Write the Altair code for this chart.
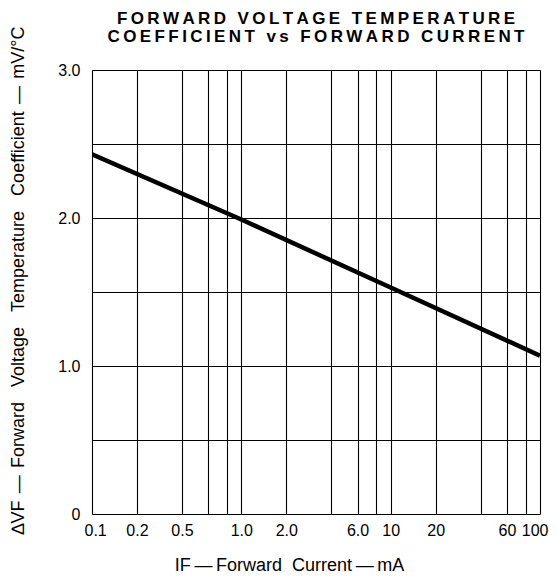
import altair as alt
import pandas as pd

# ---- data ----
current_mA = [0.1, 1.0, 10.0, 100.0]
coeff_mV_per_C = [2.43, 1.99, 1.53, 1.07]

x_grid_values = [0.1, 0.2, 0.4, 0.6, 0.8, 1, 2, 4, 6, 8, 10, 20, 40, 60, 80, 100]
x_label_values = [0.1, 0.2, 0.4, 1, 2, 6, 10, 20, 60, 100]
x_label_texts = ["0.1", "0.2", "0.5", "1.0", "2.0", "6.0", "10", "20", "60", "100"]
y_grid_values = [0, 0.5, 1.0, 1.5, 2.0, 2.5, 3.0]
y_label_values = [0, 1, 2, 3]
y_label_texts = ["0", "1.0", "2.0", "3.0"]

title_lines = ["FORWARD VOLTAGE TEMPERATURE", "COEFFICIENT vs FORWARD CURRENT"]
x_title = "IF\u2009—\u2009Forward\u00a0\u00a0Current\u2009—\u2009mA"
y_title = ("\u2206VF\u2009\u2009—\u2009\u2009Forward\u00a0\u00a0\u00a0Voltage\u00a0\u00a0\u00a0"
           "Temperature\u00a0\u00a0\u00a0Coefficient\u2009\u2009—\u2009\u2009mV/°C")

df = pd.DataFrame({"current": current_mA, "coeff": coeff_mV_per_C})


def spaced(s):
    out = []
    for w in s.split(" "):
        out.append("\u2009".join(list(w)))
    return "\u2009\u00a0\u2009".join(out)


def label_expr(values, texts):
    expr = "''"
    for v, t in reversed(list(zip(values, texts))):
        expr = f"abs(datum.value - {v}) < 1e-9 ? '{t}' : ({expr})"
    return expr


FONT = "Liberation Sans"

chart = (
    alt.Chart(df)
    .mark_line(color="black", strokeWidth=4.5, clip=True)
    .encode(
        x=alt.X(
            "current:Q",
            scale=alt.Scale(type="log", domain=[0.1, 100], nice=False),
            axis=alt.Axis(
                values=x_grid_values,
                labelExpr=label_expr(x_label_values, x_label_texts),
                ticks=False,
                domain=False,
                grid=True,
                gridColor="black",
                gridWidth=1.1,
                gridOpacity=1,
                labelFont=FONT,
                labelFontSize=16,
                labelColor="black",
                labelPadding=8,
                labelFlush=True,
                labelFlushOffset=8,
                labelOverlap=False,
                title=x_title,
                titleFont=FONT,
                titleFontSize=18,
                titleFontWeight="normal",
                titleColor="black",
                titleX=197,
                titleY=51,
                titleAlign="center",
                titleBaseline="middle",
            ),
        ),
        y=alt.Y(
            "coeff:Q",
            scale=alt.Scale(domain=[0, 3.0], nice=False, zero=False),
            axis=alt.Axis(
                values=y_grid_values,
                labelExpr=label_expr(y_label_values, y_label_texts),
                ticks=False,
                domain=False,
                grid=True,
                gridColor="black",
                gridWidth=1.1,
                gridOpacity=1,
                labelFont=FONT,
                labelFontSize=16,
                labelColor="black",
                labelPadding=12,
                labelFlush=False,
                labelOverlap=False,
                title=y_title,
                titleFont=FONT,
                titleFontSize=18,
                titleFontWeight="normal",
                titleColor="black",
                titleX=-74,
                titleY=210,
                titleAngle=270,
                titleAlign="center",
                titleBaseline="middle",
            ),
        ),
    )
    .properties(
        width=448,
        height=444,
        padding={"left": 84, "top": 62, "right": 10, "bottom": 63},
        autosize=alt.AutoSizeParams(type="none"),
        title=alt.TitleParams(
            text=[spaced(t) for t in title_lines],
            font=FONT,
            fontSize=17,
            fontWeight="bold",
            color="black",
            anchor="middle",
            frame="group",
            offset=30,
            dy=50,
            lineHeight=18.5,
        ),
    )
    .configure_view(stroke="black", strokeWidth=3)
    .configure(background="white")
)

chart.save("out.html", embed_options={"renderer": "svg", "actions": False})
